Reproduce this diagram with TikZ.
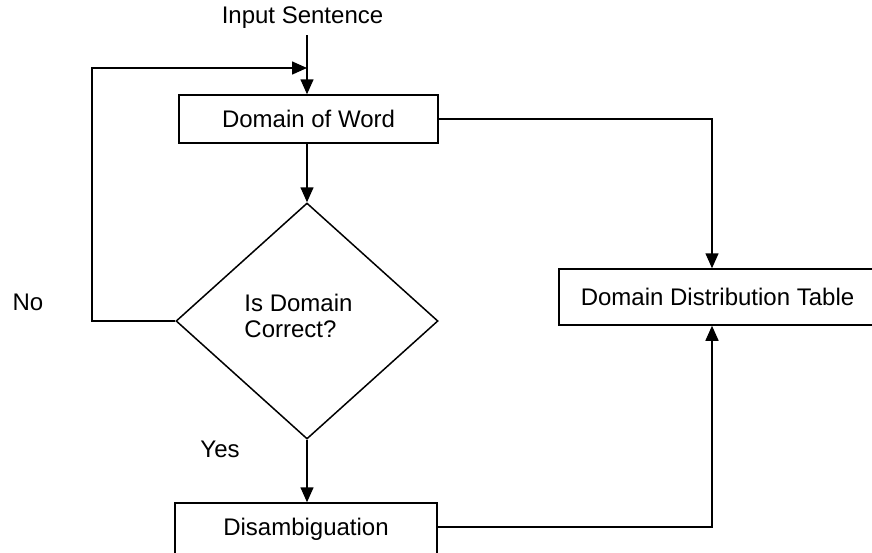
\documentclass[tikz,border=0pt]{standalone}
\usepackage{fontspec}
\setmainfont{Liberation Sans}
\usetikzlibrary{shapes.geometric,arrows.meta}
\begin{document}
\begin{tikzpicture}[x=1pt,y=-1pt,
  every node/.style={font=\fontsize{24}{26}\selectfont},
  ln/.style={line width=1.5pt},
  arr/.style={ln,-{Triangle[length=15pt,width=13pt]}},
  boxn/.style={draw,ln,rectangle,inner sep=0pt},
  lbl/.style={inner sep=0pt}]
\useasboundingbox[clip] (0,0) rectangle (872,552);
\fill[white] (0,0) rectangle (872,552);
\node[lbl] (inp) at (302.5,18) {Input Sentence};
\node[boxn,minimum width=259pt,minimum height=48pt] (dom) at (308.5,119) {Domain of Word};
\node[draw,ln,diamond,minimum width=262pt,minimum height=236pt,inner sep=0pt] (dec) at (307,321) {};
\node[lbl,align=left] (dect) at (298.5,316) {Is Domain\\Correct?};
\node[boxn,minimum width=262pt,minimum height=52pt] (dis) at (306,529) {Disambiguation};
\node[boxn,minimum width=321pt,minimum height=56pt] (tab) at (719.5,297) {\hspace*{-4pt}Domain Distribution Table};
\node[lbl] (no) at (28,302) {No};
\node[lbl] (yes) at (220,449) {Yes};
\coordinate (intop) at (307,35);
\coordinate (fbl) at (92,321);
\coordinate (fbt) at (92,68);
\coordinate (fbr) at (307,68);
\coordinate (r1) at (712,119);
\coordinate (r2) at (712,527);
\draw[arr] (intop) -- (intop |- dom.north);
\draw[arr] (fbl -| dec.west) -- (fbl) -- (fbt) -- (fbr);
\draw[arr] (dom.south -| dec.north) -- (dec.north);
\draw[arr] (dec.south) -- (dec.south |- dis.north);
\draw[arr] (dom.east |- r1) -- (r1) -- (r1 |- tab.north);
\draw[arr] (dis.east |- r2) -- (r2) -- (r2 |- tab.south);
\end{tikzpicture}
\end{document}
